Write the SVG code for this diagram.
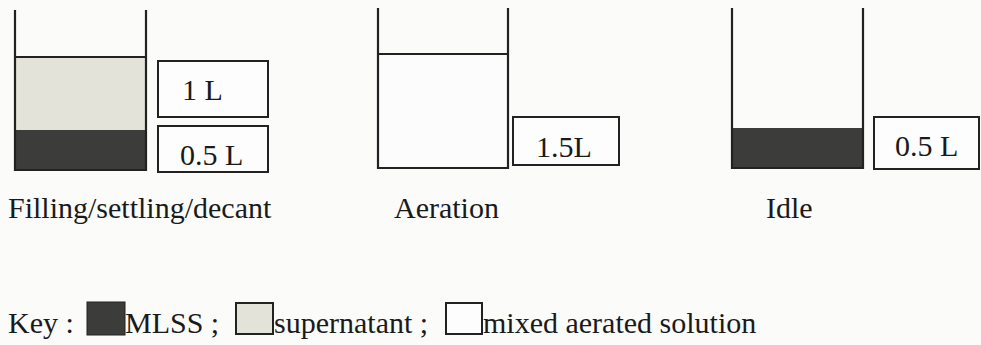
<svg xmlns="http://www.w3.org/2000/svg" width="981" height="345" viewBox="0 0 981 345">
<style>
.wall{stroke:#222;stroke-width:2.2;fill:none}
.box{stroke:#222;stroke-width:2;fill:#fdfdfd}
.mlss{fill:#3c3c3a}
.sup{fill:#e3e3d9}
.mix{fill:#fcfcfc}
.t{font-family:"Liberation Serif","Times New Roman",serif;font-size:30px;fill:#1a1a1a}
.line{stroke:#222;stroke-width:2}
</style>
<rect width="981" height="345" fill="#fbfbfa"/>
<g id="tank-filling">
<rect class="sup" x="15" y="57" width="131" height="73"/>
<rect class="mlss" x="15" y="130" width="131" height="40"/>
<line class="line" x1="15" y1="57" x2="146" y2="57"/>
<path class="wall" d="M15,10 V170 H146 V10"/>
<rect class="box" x="158" y="61" width="110" height="56"/>
<text class="t" x="182" y="100">1 L</text>
<rect class="box" x="158" y="126" width="110" height="46"/>
<text class="t" x="180" y="165">0.5 L</text>
<text class="t" x="8" y="218">Filling/settling/decant</text>
</g>
<g id="tank-aeration">
<rect class="mix" x="378" y="54" width="130" height="114"/>
<line class="line" x1="378" y1="54" x2="508" y2="54"/>
<path class="wall" d="M378,8 V168 H508 V8"/>
<rect class="box" x="513" y="117" width="106" height="48"/>
<text class="t" x="536" y="157">1.5L</text>
<text class="t" x="394" y="218">Aeration</text>
</g>
<g id="tank-idle">
<rect class="mlss" x="732" y="128" width="131" height="40"/>
<path class="wall" d="M732,8 V168 H863 V8"/>
<rect class="box" x="874" y="117" width="105" height="52"/>
<text class="t" x="895" y="156">0.5 L</text>
<text class="t" x="766" y="218">Idle</text>
</g>
<g id="key">
<text class="t" x="8" y="333">Key :</text>
<rect class="mlss" x="87" y="302" width="38" height="33" stroke="#222" stroke-width="1"/>
<text class="t" x="125" y="333">MLSS ;</text>
<rect class="sup" x="236" y="303" width="37" height="31" stroke="#222" stroke-width="2"/>
<text class="t" x="274" y="333">supernatant ;</text>
<rect x="446" y="303" width="36" height="31" fill="#fdfdfd" stroke="#222" stroke-width="2"/>
<text class="t" x="483" y="333">mixed aerated solution</text>
</g>
<g id="connectors"></g>
</svg>
